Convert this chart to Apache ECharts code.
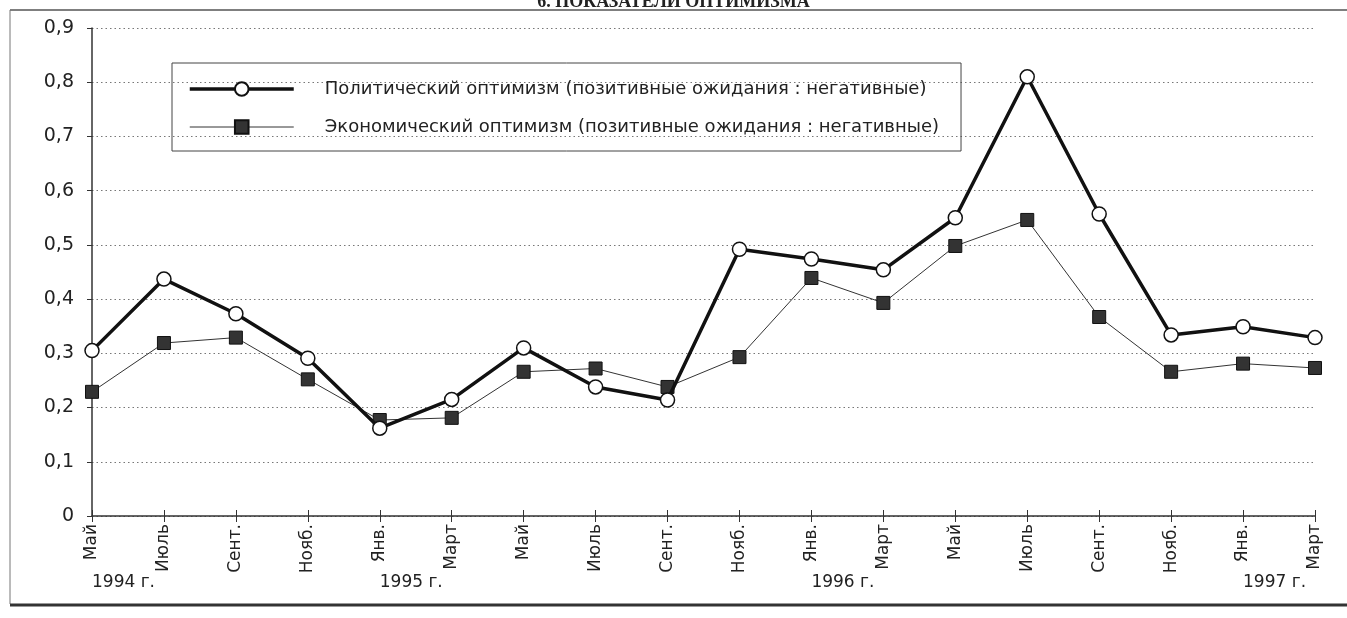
<!DOCTYPE html>
<html>
<head>
<meta charset="utf-8">
<script src="https://cdn.jsdelivr.net/npm/echarts@6/dist/echarts.min.js"></script>
<style>
  html, body { margin: 0; padding: 0; background: #fff; }
  #chart { width: 1347px; height: 618px; }
</style>
</head>
<body>
<div id="chart"></div>
<script>
// месяцы опросов
const months = ["Май", "Июль", "Сент.", "Нояб.", "Янв.", "Март", "Май", "Июль", "Сент.",
  "Нояб.", "Янв.", "Март", "Май", "Июль", "Сент.", "Нояб.", "Янв.", "Март"];
// подписи годов под осью (по первой точке года)
const years = ["1994 г.", "", "", "", "1995 г.", "", "", "", "",
  "", "1996 г.", "", "", "", "", "", "1997 г.", ""];
const politName = "Политический оптимизм (позитивные ожидания : негативные)";
const econName = "Экономический оптимизм (позитивные ожидания : негативные)";
const polit = [0.305, 0.437, 0.373, 0.291, 0.162, 0.215, 0.31, 0.238, 0.214,
  0.492, 0.474, 0.454, 0.55, 0.81, 0.557, 0.334, 0.349, 0.329];
const econ = [0.229, 0.319, 0.329, 0.252, 0.177, 0.181, 0.266, 0.272, 0.238,
  0.293, 0.439, 0.393, 0.498, 0.546, 0.367, 0.266, 0.281, 0.273];
const yTicks = [0, 0.1, 0.2, 0.3, 0.4, 0.5, 0.6, 0.7, 0.8, 0.9];

const font = "DejaVu Sans";
const chart = echarts.init(document.getElementById("chart"));

const option = {
  animation: false,
  backgroundColor: "#fff",
  title: {
    text: "6. ПОКАЗАТЕЛИ ОПТИМИЗМА",
    left: "center",
    top: -12,
    textStyle: { fontFamily: "Liberation Serif", fontSize: 18, fontWeight: "bold", color: "#222" }
  },
  graphic: [
    { type: "line", shape: { x1: 10, y1: 10, x2: 1347, y2: 10 }, style: { stroke: "#555", lineWidth: 1.5 } },
    { type: "line", shape: { x1: 10, y1: 10, x2: 10, y2: 604 }, style: { stroke: "#777", lineWidth: 1 } },
    { type: "line", shape: { x1: 10, y1: 605, x2: 1347, y2: 605 }, style: { stroke: "#333", lineWidth: 3 } }
  ],
  legend: {
    orient: "vertical",
    left: 172,
    top: 63,
    padding: [17, 22, 15, 16],
    itemGap: 20,
    itemWidth: 104,
    itemHeight: 17,
    borderColor: "#444",
    borderWidth: 1,
    textStyle: { fontFamily: font, fontSize: 18, color: "#222", padding: [0, 0, 0, 26] },
    data: [
      { name: politName, lineStyle: { width: 3.5, color: "#111" } },
      { name: econName, lineStyle: { width: 1, color: "#333" } }
    ]
  },
  grid: { left: 92, right: 32, top: 28, bottom: 102, containLabel: false },
  xAxis: [
    {
      type: "category",
      data: months,
      boundaryGap: false,
      axisLine: { lineStyle: { color: "#333", width: 1.5 } },
      axisTick: { show: true, length: 6, lineStyle: { color: "#333" } },
      axisLabel: { rotate: 90, margin: 8, fontFamily: font, fontSize: 17, color: "#222" },
      splitLine: { show: false }
    },
    {
      type: "category",
      data: months,
      boundaryGap: false,
      position: "bottom",
      axisLine: { show: false },
      axisTick: { show: true, inside: true, length: 6, lineStyle: { color: "#333" } },
      axisLabel: { show: false },
      splitLine: { show: false }
    },
    {
      type: "category",
      data: years,
      boundaryGap: false,
      position: "bottom",
      offset: 50,
      axisLine: { show: false },
      axisTick: { show: false },
      axisLabel: { interval: 0, align: "left", fontFamily: font, fontSize: 17, color: "#222" },
      splitLine: { show: false }
    }
  ],
  yAxis: {
    type: "value",
    min: yTicks[0],
    max: yTicks[yTicks.length - 1],
    interval: 0.1,
    axisLine: { show: true, lineStyle: { color: "#333", width: 1.5 } },
    axisTick: { show: true, length: 5, lineStyle: { color: "#333" } },
    axisLabel: {
      margin: 18,
      fontFamily: font,
      fontSize: 19,
      color: "#222",
      formatter: v => (v === 0 ? "0" : v.toFixed(1).replace(".", ","))
    },
    splitLine: { show: true, lineStyle: { color: "#777", type: [1.5, 3], width: 1 } }
  },
  series: [
    {
      name: politName,
      type: "line",
      data: polit,
      symbol: "circle",
      symbolSize: 14,
      z: 3,
      lineStyle: { color: "#111", width: 3.5 },
      itemStyle: { color: "#fff", borderColor: "#111", borderWidth: 1.5 }
    },
    {
      name: econName,
      type: "line",
      data: econ,
      symbol: "rect",
      symbolSize: 13,
      z: 2,
      lineStyle: { color: "#333", width: 1 },
      itemStyle: { color: "#333", borderColor: "#111", borderWidth: 1 }
    }
  ]
};

chart.setOption(option);
window.addEventListener("resize", function() {
  chart.resize();
});
</script>
</body>
</html>
